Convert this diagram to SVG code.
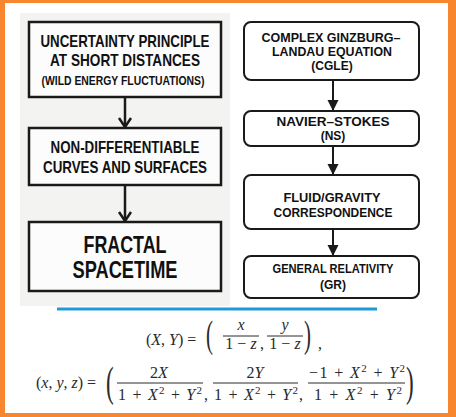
<svg xmlns="http://www.w3.org/2000/svg" width="456" height="417" viewBox="0 0 456 417">
<style>
.lbox{fill:#fcfcfc;stroke:#1a1a1a;stroke-width:2.5}
.rbox{fill:#ffffff;stroke:#1a1a1a;stroke-width:2}
.lt{font-family:"Liberation Sans Narrow","Liberation Sans",Arial,sans-serif;font-weight:bold;fill:#111;text-anchor:middle}
.rt{font-family:"Liberation Sans",Arial,sans-serif;font-weight:bold;font-size:12px;fill:#111;text-anchor:middle}
.m{font-family:"Liberation Serif","DejaVu Serif",serif;font-size:16px;fill:#2a2a2a}
.mc{text-anchor:middle}
.i{font-style:italic}
.sup{font-size:11px}
.bp{font-family:"Liberation Serif","DejaVu Serif",serif;fill:#2a2a2a}
.bar{stroke:#2a2a2a;stroke-width:1}
.conn{stroke:#1a1a1a;fill:none}
</style>
<defs>
<marker id="chev" markerUnits="userSpaceOnUse" markerWidth="16" markerHeight="16" refX="11" refY="7" orient="auto" overflow="visible">
<path d="M2,1 L11,7 L2,13" fill="none" stroke="#1a1a1a" stroke-width="2.5"/>
</marker>
<marker id="tri" markerUnits="userSpaceOnUse" markerWidth="12" markerHeight="12" refX="11" refY="5.5" orient="auto" overflow="visible">
<path d="M0,0 L11,5.5 L0,11 z" fill="#1a1a1a"/>
</marker>
</defs>
<rect x="0" y="0" width="456" height="417" fill="#f7862f"/>
<rect x="5" y="3" width="443" height="410" fill="#ffffff"/>
<rect x="20" y="13" width="210" height="293" fill="#f3f3f1"/>

<g id="connectors">
<line class="conn" x1="125" y1="97" x2="125" y2="127" stroke-width="2.5" marker-end="url(#chev)"/>
<line class="conn" x1="125" y1="185" x2="125" y2="221" stroke-width="2.5" marker-end="url(#chev)"/>
<line class="conn" x1="333" y1="80" x2="333" y2="111" stroke-width="2" marker-end="url(#tri)"/>
<line class="conn" x1="333" y1="146" x2="333" y2="175" stroke-width="2" marker-end="url(#tri)"/>
<line class="conn" x1="333" y1="229" x2="333" y2="256" stroke-width="2" marker-end="url(#tri)"/>
</g>

<g id="uncertainty">
<rect class="lbox" x="29" y="22" width="192" height="75"/>
<text class="lt" x="125" y="47" font-size="17" textLength="169" lengthAdjust="spacingAndGlyphs">UNCERTAINTY PRINCIPLE</text>
<text class="lt" x="125" y="66" font-size="17" textLength="150" lengthAdjust="spacingAndGlyphs">AT SHORT DISTANCES</text>
<text class="lt" x="123" y="85" font-size="13" textLength="163" lengthAdjust="spacingAndGlyphs">(WILD ENERGY FLUCTUATIONS)</text>
</g>
<g id="nondiff">
<rect class="lbox" x="29" y="128" width="192" height="57"/>
<text class="lt" x="125" y="153" font-size="16.5" textLength="149" lengthAdjust="spacingAndGlyphs">NON-DIFFERENTIABLE</text>
<text class="lt" x="125" y="173" font-size="16.5" textLength="164" lengthAdjust="spacingAndGlyphs">CURVES AND SURFACES</text>
</g>
<g id="fractal">
<rect class="lbox" x="29" y="222" width="192" height="69"/>
<text class="lt" x="125" y="253" font-size="23" textLength="83" lengthAdjust="spacingAndGlyphs">FRACTAL</text>
<text class="lt" x="125" y="278" font-size="23" textLength="105" lengthAdjust="spacingAndGlyphs">SPACETIME</text>
</g>

<g id="cgle">
<rect class="rbox" x="244" y="22" width="175" height="58" rx="7"/>
<text class="rt" x="331" y="42" textLength="139" lengthAdjust="spacingAndGlyphs">COMPLEX GINZBURG–</text>
<text class="rt" x="332" y="56" textLength="120" lengthAdjust="spacingAndGlyphs">LANDAU EQUATION</text>
<text class="rt" x="332" y="70">(CGLE)</text>
</g>
<g id="ns">
<rect class="rbox" x="244" y="111" width="175" height="35" rx="7"/>
<text class="rt" x="333" y="126" textLength="113" lengthAdjust="spacingAndGlyphs">NAVIER–STOKES</text>
<text class="rt" x="333" y="140">(NS)</text>
</g>
<g id="fluid">
<rect class="rbox" x="244" y="175" width="175" height="54" rx="7"/>
<text class="rt" x="332" y="202" textLength="97" lengthAdjust="spacingAndGlyphs">FLUID/GRAVITY</text>
<text class="rt" x="333" y="217" textLength="119" lengthAdjust="spacingAndGlyphs">CORRESPONDENCE</text>
</g>
<g id="gr">
<rect class="rbox" x="244" y="256" width="175" height="42" rx="7"/>
<text class="rt" x="333" y="273" textLength="121" lengthAdjust="spacingAndGlyphs">GENERAL RELATIVITY</text>
<text class="rt" x="333" y="289">(GR)</text>
</g>

<line x1="57" y1="309" x2="377" y2="309" stroke="#1e9bd7" stroke-width="3"/>

<g id="eq1">
<text class="m" x="146" y="345">(<tspan class="i">X</tspan>, <tspan class="i">Y</tspan>) =</text>
<text class="bp" style="font-size:38px" transform="translate(206,347) scale(0.55,1)">(</text>
<text class="m mc i" x="241" y="330">x</text>
<line class="bar" x1="223" y1="336" x2="259" y2="336"/>
<text class="m mc" x="241" y="349">1 − <tspan class="i">z</tspan></text>
<text class="m" x="260" y="349">,</text>
<text class="m mc i" x="285" y="330">y</text>
<line class="bar" x1="267" y1="336" x2="303" y2="336"/>
<text class="m mc" x="285" y="349">1 − <tspan class="i">z</tspan></text>
<text class="bp" style="font-size:38px" transform="translate(304,347) scale(0.55,1)">)</text>
<text class="m" x="318" y="349">,</text>
</g>

<g id="eq2">
<text class="m" x="36" y="388">(<tspan class="i">x</tspan>, <tspan class="i">y</tspan>, <tspan class="i">z</tspan>) =</text>
<text class="bp" style="font-size:42px" transform="translate(106,396) scale(0.55,1)">(</text>
<text class="m mc" x="159" y="378">2<tspan class="i">X</tspan></text>
<line class="bar" x1="117" y1="383" x2="203" y2="383"/>
<text class="m mc" x="160" y="400" textLength="84">1 + <tspan class="i">X</tspan><tspan class="sup" dy="-6">2</tspan><tspan dy="6"> + </tspan><tspan class="i">Y</tspan><tspan class="sup" dy="-6">2</tspan></text>
<text class="m" x="204" y="400">,</text>
<text class="m mc" x="255" y="378">2<tspan class="i">Y</tspan></text>
<line class="bar" x1="213" y1="383" x2="298" y2="383"/>
<text class="m mc" x="256" y="400" textLength="84">1 + <tspan class="i">X</tspan><tspan class="sup" dy="-6">2</tspan><tspan dy="6"> + </tspan><tspan class="i">Y</tspan><tspan class="sup" dy="-6">2</tspan></text>
<text class="m" x="299" y="400">,</text>
<text class="m mc" x="357" y="378" textLength="96">−1 + <tspan class="i">X</tspan><tspan class="sup" dy="-6">2</tspan><tspan dy="6"> + </tspan><tspan class="i">Y</tspan><tspan class="sup" dy="-6">2</tspan></text>
<line class="bar" x1="308" y1="383" x2="405" y2="383"/>
<text class="m mc" x="358" y="400" textLength="88">1 + <tspan class="i">X</tspan><tspan class="sup" dy="-6">2</tspan><tspan dy="6"> + </tspan><tspan class="i">Y</tspan><tspan class="sup" dy="-6">2</tspan></text>
<text class="bp" style="font-size:42px" transform="translate(406,396) scale(0.55,1)">)</text>
</g>
</svg>
